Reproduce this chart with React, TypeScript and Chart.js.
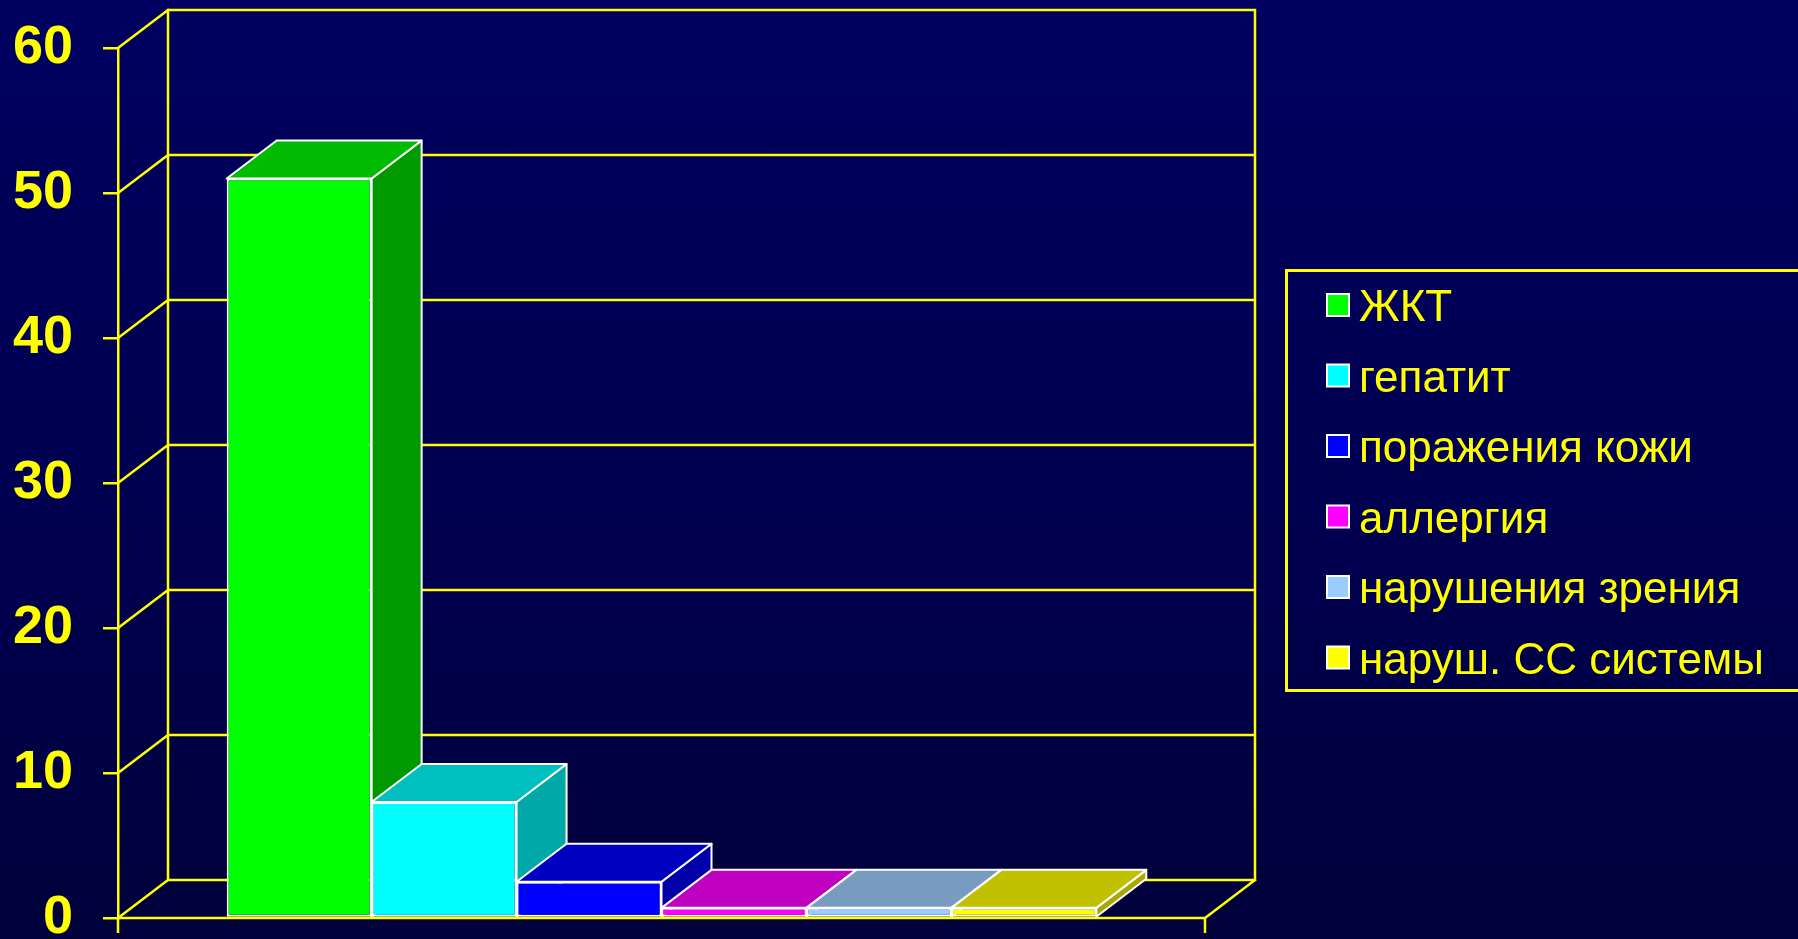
import React, { useEffect, useRef } from 'react';
import { Chart, registerables } from 'chart.js';

Chart.register(...registerables);

const categories = [''];
const seriesNames = ['ЖКТ', 'гепатит', 'поражения кожи', 'аллергия', 'нарушения зрения', 'наруш. СС системы'];
const seriesValues = [51, 8, 2.5, 0.7, 0.7, 0.7];
const frontColors = ['#00FF00', '#00FFFF', '#0000FF', '#FF00FF', '#99CCFF', '#FFFF00'];
const topColors = ['#00BB00', '#00BFBF', '#0000C0', '#C000C0', '#779CC0', '#C0C000'];
const sideColors = ['#009900', '#00A8A8', '#0000A8', '#A000A0', '#5F7FA0', '#A8A800'];
const yMin = 0;
const yMax = 60;
const yStep = 10;

const DX = 50;
const DY = 38;
const YELLOW = '#FFFF00';
const LW = 2.5;

function poly(ctx: CanvasRenderingContext2D, pts: number[][], fill: string) {
  ctx.beginPath();
  ctx.moveTo(pts[0][0], pts[0][1]);
  for (let i = 1; i < pts.length; i++) ctx.lineTo(pts[i][0], pts[i][1]);
  ctx.closePath();
  ctx.fillStyle = fill;
  ctx.fill();
  ctx.strokeStyle = '#FFFFFF';
  ctx.lineWidth = 2;
  ctx.stroke();
}

const wallPlugin = {
  id: 'wall3d',
  beforeDatasetsDraw(chart: any) {
    const ctx: CanvasRenderingContext2D = chart.ctx;
    const { left, right, top, bottom } = chart.chartArea;
    const ys = chart.scales.y;
    ctx.save();
    ctx.strokeStyle = YELLOW;
    ctx.lineWidth = LW;
    ctx.lineCap = 'square';
    ctx.beginPath();
    ctx.moveTo(left + DX, top - DY);
    ctx.lineTo(left + DX, bottom - DY);
    ctx.moveTo(right + DX, top - DY);
    ctx.lineTo(right + DX, bottom - DY);
    for (let v = yMin; v <= yMax; v += yStep) {
      const py = ys.getPixelForValue(v);
      ctx.moveTo(left, py);
      ctx.lineTo(left + DX, py - DY);
      ctx.moveTo(left + DX, py - DY);
      ctx.lineTo(right + DX, py - DY);
    }
    ctx.moveTo(right, bottom);
    ctx.lineTo(right + DX, bottom - DY);
    ctx.stroke();

    ctx.lineJoin = 'round';
    chart.data.datasets.forEach((ds: any, i: number) => {
      const meta = chart.getDatasetMeta(i);
      const el = meta.data[0];
      if (!el) return;
      const p = el.getProps(['x', 'y', 'base', 'width'], true);
      const l = p.x - p.width / 2;
      const r = p.x + p.width / 2;
      poly(ctx, [[r, p.y], [r + DX, p.y - DY], [r + DX, p.base - DY], [r, p.base]], sideColors[i]);
      poly(ctx, [[l, p.y], [l + DX, p.y - DY], [r + DX, p.y - DY], [r, p.y]], topColors[i]);
    });
    ctx.restore();
  },
  afterDatasetsDraw(chart: any) {
    const ctx: CanvasRenderingContext2D = chart.ctx;
    const { left, right, bottom } = chart.chartArea;
    ctx.save();
    ctx.strokeStyle = YELLOW;
    ctx.lineWidth = LW;
    ctx.beginPath();
    ctx.moveTo(left, bottom);
    ctx.lineTo(right, bottom);
    ctx.moveTo(right, bottom);
    ctx.lineTo(right, bottom + 15);
    ctx.moveTo(left, bottom);
    ctx.lineTo(left, bottom + 15);
    ctx.stroke();
    ctx.restore();
  },
  afterDraw(chart: any) {
    const ctx: CanvasRenderingContext2D = chart.ctx;
    ctx.save();
    ctx.strokeStyle = YELLOW;
    ctx.lineWidth = 3;
    ctx.strokeRect(1286.5, 270.5, 600, 420);
    ctx.font = '44px "Liberation Sans", Arial, sans-serif';
    ctx.textBaseline = 'alphabetic';
    ctx.textAlign = 'left';
    chart.data.datasets.forEach((ds: any, i: number) => {
      const cy = 305 + i * 70.5;
      ctx.fillStyle = ds.backgroundColor;
      ctx.fillRect(1327, cy - 11, 22, 22);
      ctx.strokeStyle = '#FFFFFF';
      ctx.lineWidth = 2;
      ctx.strokeRect(1327, cy - 11, 22, 22);
      ctx.fillStyle = YELLOW;
      ctx.fillText(ds.label, 1359, cy + 16);
    });
    ctx.restore();
  },
};

export default function App() {
  const ref = useRef<HTMLCanvasElement>(null);
  useEffect(() => {
    if (!ref.current) return;
    const chart = new Chart(ref.current, {
      type: 'bar',
      data: {
        labels: categories,
        datasets: seriesNames.map((name, i) => ({
          label: name,
          data: [seriesValues[i]],
          backgroundColor: frontColors[i],
          borderColor: '#FFFFFF',
          borderWidth: 2,
          borderSkipped: false,
          barPercentage: 1,
          categoryPercentage: 0.8,
        })),
      },
      options: {
        responsive: false,
        animation: false,
        devicePixelRatio: 1,
        layout: { padding: { left: 0, top: 48, right: 593, bottom: 21 } },
        plugins: { legend: { display: false }, tooltip: { enabled: false } },
        scales: {
          x: { display: false },
          y: {
            min: yMin,
            max: yMax,
            ticks: {
              stepSize: yStep,
              color: YELLOW,
              padding: 30,
              font: { family: '"Liberation Sans", Arial, sans-serif', weight: 'bold', size: 54 },
            },
            grid: { drawOnChartArea: false, drawTicks: true, tickLength: 15, color: YELLOW, lineWidth: LW },
            border: { display: true, color: YELLOW, width: LW },
            afterFit: (s: any) => {
              s.width = 118;
              s.paddingTop = 0;
              s.paddingBottom = 0;
            },
          },
        },
      },
      plugins: [wallPlugin],
    });
    return () => chart.destroy();
  }, []);
  return (
    <div
      style={{
        position: 'fixed',
        left: 0,
        top: 0,
        width: 1798,
        height: 939,
        overflow: 'hidden',
        background: 'linear-gradient(to bottom, #000060 0%, #00004E 60%, #00003A 100%)',
      }}
    >
      <canvas ref={ref} width={1798} height={939} style={{ display: 'block' }} />
    </div>
  );
}
